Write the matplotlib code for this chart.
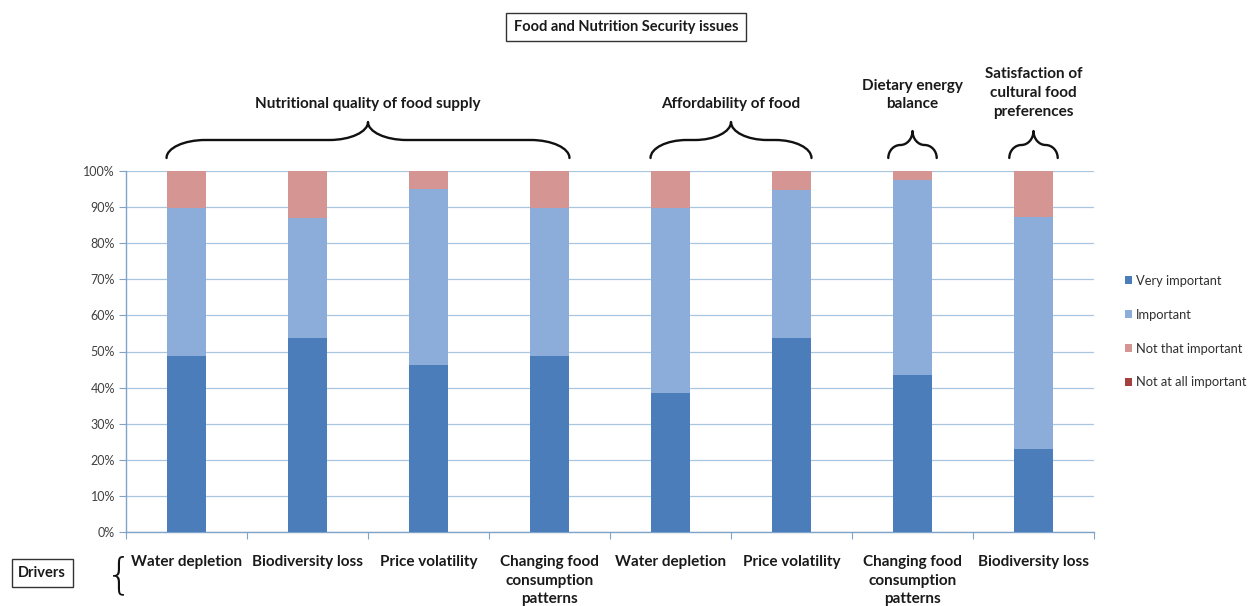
import matplotlib
matplotlib.use("Agg")
import matplotlib.pyplot as plt
import numpy as np
from matplotlib.path import Path
from matplotlib.patches import PathPatch
import matplotlib.transforms as mtransforms

# ---------------- data ----------------
drivers = ["Water depletion", "Biodiversity loss", "Price volatility",
           "Changing food\nconsumption\npatterns",
           "Water depletion", "Price volatility",
           "Changing food\nconsumption\npatterns", "Biodiversity loss"]
series_names = ["Very important", "Important", "Not that important", "Not at all important"]
very_important = [48.7, 53.8, 46.2, 48.7, 38.5, 53.8, 43.6, 23.1]
important = [41.0, 33.3, 48.7, 41.0, 51.3, 41.0, 53.8, 64.1]
not_that_important = [10.3, 12.8, 5.1, 10.3, 10.2, 5.2, 2.6, 12.8]
not_at_all_important = [0, 0, 0, 0, 0, 0, 0, 0]
groups = ["Nutritional quality of food supply", "Affordability of food",
          "Dietary energy\nbalance", "Satisfaction of\ncultural food\npreferences"]
group_first = [0, 4, 6, 7]
group_last = [3, 5, 6, 7]
yticks = [0, 10, 20, 30, 40, 50, 60, 70, 80, 90, 100]

colors = ["#4a7db9", "#8cadd9", "#d49593", "#a4413f"]
FONT = ["Lato", "DejaVu Sans"]
W, H = 1252, 606

fig = plt.figure(figsize=(W / 100, H / 100), dpi=100)
ax = fig.add_axes([126 / W, 1 - 532 / H, (1094 - 126) / W, (532 - 171) / H])

x = np.arange(len(drivers))
bw = 0.33
bottom = np.zeros(len(drivers))
for name, vals, c in zip(series_names,
                         [very_important, important, not_that_important, not_at_all_important],
                         colors):
    vals = np.array(vals, dtype=float)
    ax.bar(x, vals, bw, bottom=bottom, color=c, label=name, zorder=3)
    bottom += vals

ax.set_xlim(-0.5, len(drivers) - 0.5)
ax.set_ylim(0, 100)
ax.set_yticks(yticks)
ax.set_yticklabels([f"{t}%" for t in yticks], fontsize=9, color="#404040", family=FONT)
ax.yaxis.grid(True, color="#a9c6e0", linewidth=0.9, zorder=0)
ax.set_axisbelow(True)
for s in ["top", "right"]:
    ax.spines[s].set_visible(False)
for s in ["left", "bottom"]:
    ax.spines[s].set_color("#7fa3c9")
    ax.spines[s].set_linewidth(1.0)
ax.tick_params(axis="y", length=5, color="#7fa3c9", pad=3)
ax.set_xticks(np.arange(-0.5, len(drivers) + 0.5, 1.0))
ax.set_xticklabels([])
ax.tick_params(axis="x", length=5, color="#7fa3c9")

# category labels
for xi, lab in zip(x, drivers):
    ax.annotate(lab, xy=(xi, 0), xycoords=("data", "axes fraction"),
                xytext=(0, -16.5), textcoords="offset points", ha="center", va="top",
                fontsize=11, fontweight="bold", family=FONT, color="#1a1a1a",
                linespacing=1.42)

# legend
leg = fig.legend(loc="upper left", bbox_to_anchor=(1113 / W, 1 - 263 / H),
                 frameon=False, handlelength=0.55, handleheight=0.55,
                 labelspacing=1.7, handletextpad=0.3, prop={"family": FONT, "size": 9.3})
for t in leg.get_texts():
    t.set_color("#303030")

# braces
blend = mtransforms.blended_transform_factory(ax.transData, fig.transFigure)


def brace(x0, x1, ybot, ymid, ytop, q):
    """Curly brace: hooks of width q at both ends and at the centre cusp."""
    xc = (x0 + x1) / 2
    k = 0.55
    verts = [(x0, ybot),
             (x0, ybot + (ymid - ybot) * k), (x0 + q * (1 - k), ymid), (x0 + q, ymid),
             (xc - q, ymid),
             (xc - q * (1 - k), ymid), (xc, ymid + (ytop - ymid) * (1 - k)), (xc, ytop),
             (xc, ymid + (ytop - ymid) * (1 - k)), (xc + q * (1 - k), ymid), (xc + q, ymid),
             (x1 - q, ymid),
             (x1 - q * (1 - k), ymid), (x1, ybot + (ymid - ybot) * k), (x1, ybot)]
    codes = [Path.MOVETO,
             Path.CURVE4, Path.CURVE4, Path.CURVE4,
             Path.LINETO,
             Path.CURVE4, Path.CURVE4, Path.CURVE4,
             Path.CURVE4, Path.CURVE4, Path.CURVE4,
             Path.LINETO,
             Path.CURVE4, Path.CURVE4, Path.CURVE4]
    fig.add_artist(PathPatch(Path(verts, codes), transform=blend, fill=False,
                             lw=1.7, color="#111111", capstyle="round", joinstyle="round"))


label_y = [104, 104, 95, 93]
for g, a, b, ly in zip(groups, group_first, group_last, label_y):
    if b > a:
        x0, x1 = a - bw / 2, b + bw / 2
        q = min(0.32, (x1 - x0) / 2 * 0.45)
        brace(x0, x1, 1 - 158 / H, 1 - 140 / H, 1 - 122 / H, q)
    else:
        x0, x1 = a - 0.2, b + 0.2
        brace(x0, x1, 1 - 158 / H, 1 - 145 / H, 1 - 131 / H, 0.1)
    fig.text((126 + (a + b + 1) / 2 * 121) / W, 1 - ly / H, g, ha="center", va="center",
             fontsize=11, fontweight="bold", family=FONT, color="#1a1a1a",
             linespacing=1.42)

# title box
fig.text(626 / W, 1 - 27 / H, "Food and Nutrition Security issues", ha="center",
         va="center", fontsize=10.5, fontweight="bold", family=FONT, color="#1a1a1a",
         bbox=dict(boxstyle="square,pad=0.5", fc="white", ec="#333333", lw=1.0))
# drivers box
fig.text(42 / W, 1 - 573 / H, "Drivers", ha="center", va="center",
         fontsize=10.5, fontweight="bold", family=FONT, color="#1a1a1a",
         bbox=dict(boxstyle="square,pad=0.45", fc="white", ec="#333333", lw=1.0))
fig.text(119 / W, 1 - 576 / H, "{", ha="center", va="center", fontsize=30,
         family=["DejaVu Sans"], color="#111111", fontweight="light")

fig.savefig("out.png", dpi=100)
